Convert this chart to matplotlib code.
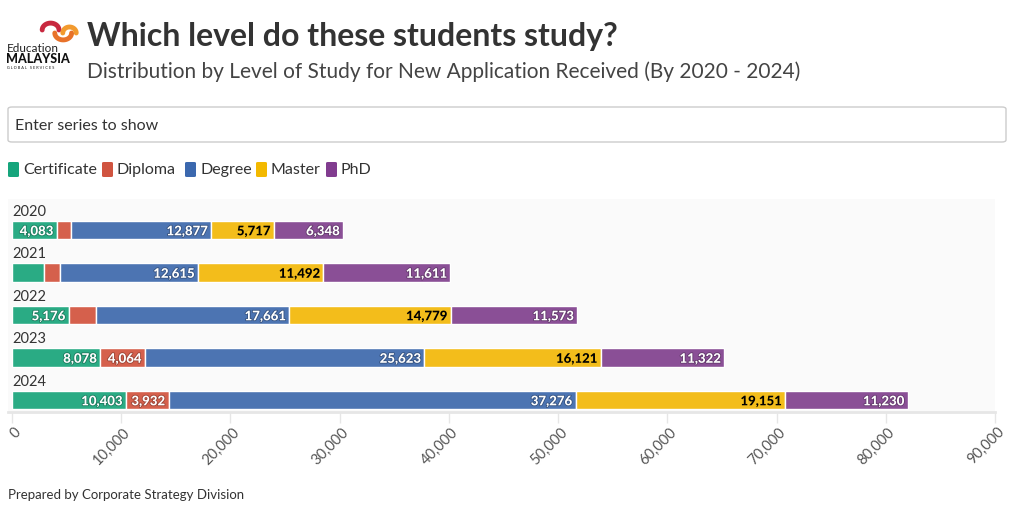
import matplotlib
matplotlib.use('Agg')
import matplotlib.pyplot as plt
import matplotlib.patheffects as pe
import matplotlib.transforms as mtransforms
from matplotlib.patches import FancyBboxPatch
from matplotlib.ticker import FuncFormatter
import numpy as np

plt.rcParams['font.family'] = ['Lato', 'DejaVu Sans']

# data
years = ['2020', '2021', '2022', '2023', '2024']
levels = ['Certificate', 'Diploma', 'Degree', 'Master', 'PhD']
certificate = [4083, 2950, 5176, 8078, 10403]
diploma = [1290, 1450, 2550, 4064, 3932]
degree = [12877, 12615, 17661, 25623, 37276]
master = [5717, 11492, 14779, 16121, 19151]
phd = [6348, 11611, 11573, 11322, 11230]
series = [certificate, diploma, degree, master, phd]

bar_colors = ['#2aab84', '#d5604c', '#4c74b2', '#f3bd1b', '#8a4f96']
legend_colors = ['#16a57c', '#d05440', '#3b68ae', '#f3b900', '#813c8f']
label_colors = ['white', 'white', 'white', 'black', 'white']
halo_colors = ['#1e7a5e', '#9a4436', '#36527f', '#f3bd1b', '#633a6c']

W, H = 1015, 525
fig = plt.figure(figsize=(W / 100, H / 100), dpi=100)
fig.patch.set_facecolor('white')


def fx(x):
    return x / W


def fy(y):
    return 1 - y / H


# logo (simplified)
fig.text(fx(7), fy(52), 'Education', fontsize=8.5, color='#222', va='baseline')
fig.text(fx(6), fy(63), 'MALAYSIA', fontsize=9, weight='black', color='#111', va='baseline')
fig.text(fx(7), fy(69), 'G L O B A L   S E R V I C E S', fontsize=2.8, color='#111', va='baseline')
logo = fig.add_axes([fx(38), fy(48), fx(42), 30 / H])
logo.axis('off')
logo.set_xlim(0, 10)
logo.set_ylim(0, 10)
a = np.linspace(0, np.pi, 40)
logo.plot(3 + 2 * np.cos(a), 6 + 2.3 * np.sin(a), color='#c8283f', lw=3.5, solid_capstyle='round')
logo.plot(6 + 2 * np.cos(a + np.pi), 5 + 2.3 * np.sin(a + np.pi), color='#e8722a', lw=3.5, solid_capstyle='round')
logo.plot(7.5 + 1.6 * np.cos(a), 5 + 2.0 * np.sin(a), color='#f29a2e', lw=3.5, solid_capstyle='round')

# titles
fig.text(fx(87), fy(46), 'Which level do these students study?', fontsize=23, weight='bold',
         color='#333333', va='baseline')
fig.text(fx(87), fy(78), 'Distribution by Level of Study for New Application Received (By 2020 - 2024)',
         fontsize=15, color='#444444', va='baseline')

# search box
box = FancyBboxPatch((fx(8), fy(142)), fx(998), 35 / H, boxstyle='round,pad=0,rounding_size=0.004',
                     transform=fig.transFigure, facecolor='white', edgecolor='#cccccc', lw=1)
fig.patches.append(box)
fig.text(fx(15), fy(130), 'Enter series to show', fontsize=11.5, color='#333333', va='baseline')

# legend
lx = [8, 102, 185, 256, 326]
for i, name in enumerate(levels):
    sw = FancyBboxPatch((fx(lx[i]), fy(177)), fx(11), 15 / H,
                        boxstyle='round,pad=0,rounding_size=0.002', transform=fig.transFigure,
                        facecolor=legend_colors[i], edgecolor='none')
    fig.patches.append(sw)
    fig.text(fx(lx[i] + 15), fy(174), name, fontsize=11.5, color='#333333', va='baseline')

# chart
ax = fig.add_axes([fx(8), fy(412), fx(987), 213 / H])
ax.set_facecolor('#fafafa')
y = np.arange(len(years))
left = np.zeros(len(years))
for i, vals in enumerate(series):
    vals = np.array(vals)
    ax.barh(y, vals, left=left, height=0.43, color=bar_colors[i], edgecolor='white', linewidth=1)
    for j, v in enumerate(vals):
        w_px = v * 983 / 90000
        if w_px > 38:
            ax.text(left[j] + v - 280, y[j] + 0.03, f'{v:,}', ha='right', va='center', fontsize=9.5,
                    weight='black', color=label_colors[i],
                    path_effects=[pe.withStroke(linewidth=1.2, foreground=halo_colors[i])])
    left = left + vals

for j, yr in enumerate(years):
    ax.text(0, y[j] - 0.33, yr, ha='left', va='baseline', fontsize=10.5, color='#333333')

ax.set_xlim(-366, 90000)
ax.set_ylim(4.282, -0.729)
ax.set_yticks([])
ax.set_xticks(np.arange(0, 90001, 10000))
ax.xaxis.set_major_formatter(FuncFormatter(lambda v, p: f'{int(v):,}'))
ax.tick_params(axis='x', length=8, width=1, color='#e6e6e6', labelsize=10.5, labelcolor='#555555', pad=2)
shift = mtransforms.ScaledTranslation(2 / 100, 1 / 100, fig.dpi_scale_trans)
for lab in ax.get_xticklabels():
    lab.set_rotation(45)
    lab.set_ha('right')
    lab.set_va('top')
    lab.set_rotation_mode('anchor')
    lab.set_transform(lab.get_transform() + shift)
for s in ['top', 'right', 'left']:
    ax.spines[s].set_visible(False)
ax.spines['bottom'].set_color('#e6e6e6')
ax.spines['bottom'].set_linewidth(2)

fig.text(fx(8), fy(499), 'Prepared by Corporate Strategy Division', fontsize=9.5, color='#333333',
         va='baseline')

fig.savefig('out.png', dpi=100)
